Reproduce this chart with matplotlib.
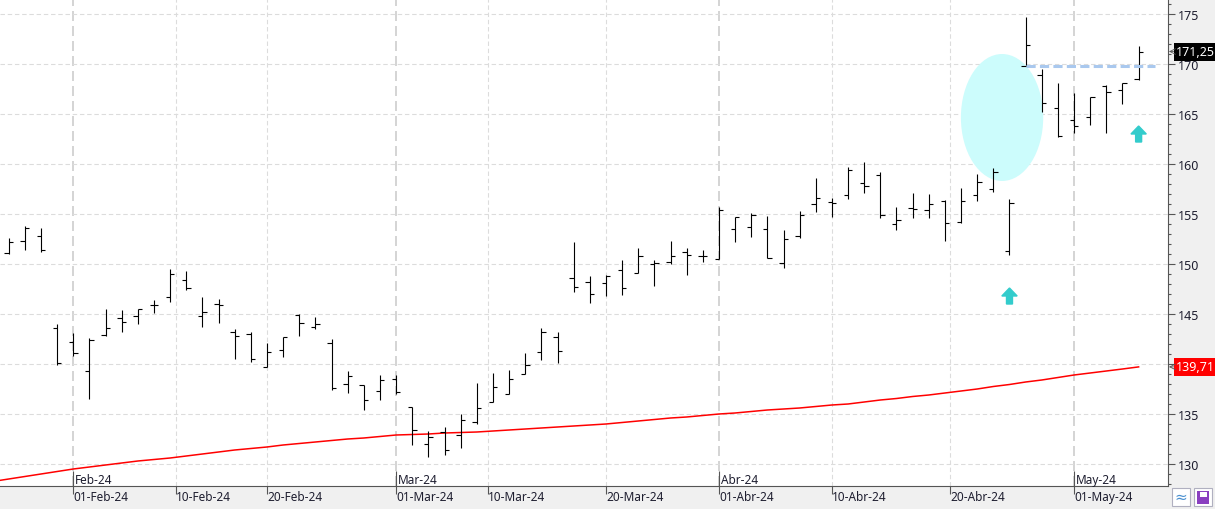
import numpy as np
import pandas as pd
import matplotlib
matplotlib.use('Agg')
import matplotlib.pyplot as plt
from matplotlib.patches import Ellipse, Rectangle

plt.rcParams['font.family'] = ['Noto Sans', 'DejaVu Sans']

# trading days (US calendar, Presidents Day and Good Friday closed);
# the first day sits just left of the visible window, only its average shows
dates = pd.bdate_range('2024-01-25', '2024-05-07', freq='C', holidays=['2024-02-19', '2024-03-29'])

nan = float('nan')
opens = [nan, 151.07, 152.33, 152.8, 143.6, 142.2, 139.33, 142.87, 144.6, 144.83, 145.87,
         146.73, 148.4, 144.8, 146.0, 143.2, 143.0, 139.67, 141.4, 144.93, 143.7,
         142.1, 138.0, 137.93, 137.33, 138.5, 135.7, 132.0, 133.17, 132.9, 134.17,
         136.2, 137.0, 138.97, 141.23, 142.7, 148.6, 148.2, 148.1, 149.4, 149.07,
         150.03, 150.2, 151.2, 150.8, 150.5, 153.5, 153.7, 153.5, 150.1, 152.8,
         156.03, 156.2, 156.93, 158.13, 158.93, 154.0, 155.6, 155.4, 156.3, 154.2,
         156.9, 157.5, 151.3, 169.8, 168.9, 165.6, 164.43, 164.7, 167.8, 167.4,
         168.5]
highs = [nan, 152.6, 153.77, 153.6, 144.0, 143.1, 142.6, 145.53, 145.4, 145.53, 146.4,
         149.53, 149.33, 146.73, 146.5, 143.5, 143.2, 142.1, 142.7, 145.0, 144.7,
         142.5, 139.33, 137.93, 138.9, 138.9, 135.7, 133.27, 133.67, 135.0, 138.1,
         139.1, 139.43, 141.1, 143.6, 143.2, 152.2, 148.8, 148.87, 150.4, 151.6,
         150.4, 152.3, 151.6, 151.4, 155.7, 154.7, 155.1, 154.8, 153.4, 155.3,
         158.6, 156.6, 159.7, 160.2, 159.2, 155.7, 157.1, 157.03, 156.4, 157.6,
         159.0, 159.6, 156.5, 174.7, 169.5, 168.1, 167.1, 166.7, 167.9, 168.1,
         171.8]
lows = [nan, 151.0, 151.4, 151.2, 139.87, 140.77, 136.5, 142.8, 143.17, 144.0, 145.07,
        146.17, 147.4, 143.67, 144.07, 140.47, 140.17, 139.67, 140.67, 142.77, 143.47,
        137.37, 137.07, 135.37, 136.37, 136.97, 131.9, 130.7, 130.9, 131.6, 134.0,
        136.2, 137.0, 138.97, 140.43, 140.1, 147.17, 146.07, 146.77, 146.87, 149.07,
        147.77, 150.0, 148.87, 150.2, 150.5, 152.2, 152.7, 150.6, 149.6, 152.6,
        155.2, 154.7, 156.5, 157.1, 154.6, 153.4, 154.6, 154.6, 152.3, 154.1,
        156.3, 157.2, 150.9, 169.8, 165.2, 162.7, 163.1, 163.9, 163.1, 166.0,
        168.4]
closes = [nan, 152.2, 153.6, 151.4, 140.13, 141.13, 142.4, 143.6, 144.2, 145.53, 145.87,
          149.0, 147.63, 145.2, 145.9, 142.8, 140.47, 141.2, 142.67, 144.1, 144.0,
          137.57, 138.83, 136.43, 138.4, 137.2, 133.4, 132.73, 131.4, 134.37, 135.57,
          137.7, 138.5, 139.9, 143.2, 141.33, 147.7, 147.0, 148.8, 147.6, 150.8,
          150.13, 150.8, 150.9, 150.8, 155.4, 154.7, 154.9, 150.6, 152.5, 154.9,
          156.6, 156.1, 159.4, 157.8, 154.87, 154.4, 155.5, 156.0, 154.1, 156.3,
          158.2, 159.2, 156.1, 171.9, 166.1, 162.8, 163.8, 166.7, 167.2, 168.1,
          171.25]
# 200 day moving average (red)
sma_200 = [128.25, 128.5, 128.75, 129.0, 129.25, 129.5, 129.7, 129.9, 130.1, 130.3, 130.45,
           130.6, 130.8, 131.0, 131.2, 131.4, 131.55, 131.7, 131.9, 132.05, 132.2,
           132.35, 132.5, 132.6, 132.75, 132.9, 132.95, 133.0, 133.1, 133.15, 133.2,
           133.3, 133.4, 133.5, 133.6, 133.7, 133.8, 133.9, 134.0, 134.15, 134.3,
           134.45, 134.6, 134.7, 134.85, 135.0, 135.1, 135.25, 135.4, 135.5, 135.6,
           135.75, 135.9, 136.0, 136.2, 136.4, 136.55, 136.75, 136.9, 137.1, 137.3,
           137.5, 137.75, 137.95, 138.2, 138.4, 138.65, 138.9, 139.1, 139.3, 139.5,
           139.71]

last_label = '171,25'
sma_label = '139,71'

# drawings on the chart
resistance_level = 169.8
resistance_start = '2024-04-26'
highlight_center = ('2024-04-24', 164.65)
highlight_size = (5.1, 12.7)
arrow_dates = ['2024-04-25', '2024-05-07']
arrow_tops = [147.6, 163.8]

price_ticks = [130, 135, 140, 145, 150, 155, 160, 165, 170, 175]
hidden_price_ticks = [140]  # covered by the red average tag
month_ticks = ['2024-02-01', '2024-03-01', '2024-04-01', '2024-05-01']
month_labels = ['Feb-24', 'Mar-24', 'Abr-24', 'May-24']
day_ticks = ['2024-02-01', '2024-02-10', '2024-02-20', '2024-03-01', '2024-03-10',
             '2024-03-20', '2024-04-01', '2024-04-10', '2024-04-20', '2024-05-01']
day_labels = ['01-Feb-24', '10-Feb-24', '20-Feb-24', '01-Mar-24', '10-Mar-24',
              '20-Mar-24', '01-Abr-24', '10-Abr-24', '20-Abr-24', '01-May-24']

W, H = 1215, 510
x = np.arange(len(dates))


def date_pos(d):
    # calendar date -> position on the bar axis (weekends fall between bars)
    return np.interp(pd.Timestamp(d).value, dates.asi8, x)


fig = plt.figure(figsize=(W / 100, H / 100), dpi=100, facecolor='#f0f0f0')
ax = fig.add_axes([0, 23 / H, 1168 / W, 487 / H], facecolor='white')

ax.set_xlim(0.46, 72.82)
ax.set_ylim(127.8, 176.5)

# grid
for p in [date_pos(d) for d in day_ticks]:
    if any(abs(p - date_pos(m)) < 0.01 for m in month_ticks):
        ax.axvline(p, color='#cdcdcd', lw=1.2, dashes=(6, 3), zorder=0)
    else:
        ax.axvline(p, color='#dcdcdc', lw=0.8, dashes=(4, 2.5), zorder=0)
for lvl in price_ticks:
    ax.axhline(lvl, color='#dcdcdc', lw=0.8, dashes=(4, 2.5), zorder=0)

# highlight ellipse and arrows
ell = Ellipse((date_pos(highlight_center[0]) + 0.54, highlight_center[1]),
              highlight_size[0], highlight_size[1], facecolor='#ccfcfc', edgecolor='none', zorder=1)
ax.add_patch(ell)
for d, top in zip(arrow_dates, arrow_tops):
    ax.arrow(date_pos(d), top - 1.6, 0, 1.6, width=0.37, head_width=0.95, head_length=0.8,
             length_includes_head=True, color='#33cccc', zorder=2)

# moving average
ax.plot(x, sma_200, color='#ff0000', lw=1.1, zorder=3)

# OHLC bars
tick = 0.27
ax.vlines(x, lows, highs, color='black', lw=0.8, zorder=4)
ax.hlines(opens, x - tick, x, color='black', lw=0.8, zorder=4)
ax.hlines(closes, x, x + tick, color='black', lw=0.8, zorder=4)

# resistance line
ax.hlines(resistance_level, date_pos(resistance_start), 72.0, color='#a9c8ee', lw=2.2,
          linestyles=(0, (3, 1.4)), zorder=5)

# axes styling
for s in ['top', 'left']:
    ax.spines[s].set_visible(False)
ax.spines['right'].set_color('#555555')
ax.spines['bottom'].set_color('#555555')
ax.yaxis.tick_right()
ax.set_yticks(price_ticks, ['' if t in hidden_price_ticks else str(t) for t in price_ticks])
ax.set_yticks(range(128, 177), minor=True)
ax.tick_params(axis='y', which='major', length=5, width=0.8, color='#555555',
               labelsize=9, labelcolor='#1e1e30', pad=2)
ax.tick_params(axis='y', which='minor', length=2.5, width=0.8, color='#555555')

ax.set_xticks([date_pos(d) for d in day_ticks], day_labels)
ax.tick_params(axis='x', length=6, width=0.8, color='#555555', labelsize=8.5,
               labelcolor='#1e1e30', pad=-3)
for lbl in ax.get_xticklabels():
    lbl.set_horizontalalignment('left')

# month labels inside the plot
xt = ax.get_xaxis_transform()
for d, lab in zip(month_ticks, month_labels):
    p = date_pos(d)
    ax.vlines(p, 0, 0.03, color='#555555', lw=0.8, transform=xt, zorder=6)
    ax.text(p + 0.12, 0.007, lab, transform=xt, fontsize=8.5, color='#1e1e30',
            va='baseline', ha='left', zorder=6)

# price tags on the right axis
yt = ax.get_yaxis_transform()
ax.text(1.007, closes[-1], last_label, transform=yt, fontsize=9, color='white', va='center',
        ha='left', bbox=dict(boxstyle='square,pad=0.2', fc='black', ec='none'), clip_on=False)
ax.text(1.007, sma_200[-1], sma_label, transform=yt, fontsize=9, color='white', va='center',
        ha='left', bbox=dict(boxstyle='square,pad=0.2', fc='#ff0000', ec='none'), clip_on=False)
for yv in [closes[-1], sma_200[-1]]:
    ax.annotate('', xy=(1.0008, yv), xytext=(1.0048, yv), xycoords=yt, textcoords=yt,
                arrowprops=dict(arrowstyle='->', lw=0.6, color='#555555',
                                shrinkA=0, shrinkB=0), annotation_clip=False)


# small buttons at the bottom right corner
def px(xp, yp):
    return xp / W, 1 - yp / H


for bx in [1172, 1194]:
    fig.add_artist(Rectangle(px(bx, 507), 18 / W, 18 / H, transform=fig.transFigure,
                             facecolor='white', edgecolor='#b0b0c0', lw=0.8))
fig.text(1181 / W, 1 - 498 / H, '≈', color='#4a90d0', fontsize=11, ha='center', va='center')
fig.add_artist(Rectangle(px(1197, 505), 12 / W, 13 / H, transform=fig.transFigure,
                         facecolor='#8a3fc0', edgecolor='none'))
fig.add_artist(Rectangle(px(1199.5, 498), 7 / W, 5 / H, transform=fig.transFigure,
                         facecolor='white', edgecolor='none'))

fig.savefig('out.png', dpi=100, facecolor=fig.get_facecolor())
